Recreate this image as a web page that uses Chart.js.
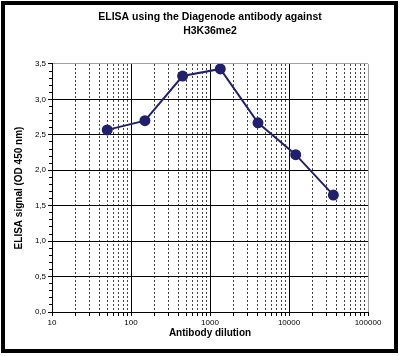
<!DOCTYPE html>
<html>
<head>
<meta charset="utf-8">
<script src="https://cdn.jsdelivr.net/npm/chart.js@4/dist/chart.umd.min.js"></script>
<style>
  html, body { margin: 0; padding: 0; background: #fff; }
  #wrap { position: relative; width: 400px; height: 356px; }
  #frame { position: absolute; left: 1px; top: 1px; width: 397px; height: 352px; box-sizing: border-box; border: 4px solid #000; pointer-events: none; }
  canvas { position: absolute; left: 0; top: 0; }
</style>
</head>
<body>
<div id="wrap">
  <canvas id="c" width="400" height="356"></canvas>
  <div id="frame"></div>
</div>
<script>
// ---- data ----
const dilutions = [50, 150, 450, 1350, 4050, 12150, 36450];
const signal = [2.57, 2.70, 3.33, 3.43, 2.67, 2.22, 1.65];
const titleLines = ['ELISA using the Diagenode antibody against', 'H3K36me2'];
const xTitle = 'Antibody dilution';
const yTitle = 'ELISA signal (OD 450 nm)';
const majorX = [10, 100, 1000, 10000, 100000];
const minorFactors = [2, 3, 4, 5, 6, 7, 8, 9];
const yMajorTicks = [0, 0.5, 1, 1.5, 2, 2.5, 3, 3.5];
const yMinorStep = 0.1;

const minorX = [];
for (let i = 0; i < majorX.length - 1; i++) minorFactors.forEach(f => minorX.push(majorX[i] * f));
const allX = majorX.concat(minorX).sort((a, b) => a - b);
const yMinorTicks = [];
for (let i = 0; i <= 35; i++) yMinorTicks.push(+(i * yMinorStep).toFixed(1));

const FONT = 'Liberation Sans, Arial, sans-serif';
const lineColor = '#20206e';

new Chart(document.getElementById('c'), {
  type: 'line',
  data: {
    datasets: [{
      data: dilutions.map((d, i) => ({ x: d, y: signal[i] })),
      borderColor: lineColor,
      backgroundColor: lineColor,
      borderWidth: 2,
      pointRadius: 4.5,
      pointBackgroundColor: lineColor,
      pointBorderColor: lineColor,
      tension: 0,
      fill: false
    }]
  },
  options: {
    responsive: false,
    animation: false,
    devicePixelRatio: 1,
    layout: { padding: { left: 8, right: 32, top: 0, bottom: 12 } },
    plugins: {
      legend: { display: false },
      tooltip: { enabled: false },
      title: {
        display: true,
        text: titleLines,
        fullSize: false,
        color: '#000',
        font: { family: FONT, size: 10.5, weight: 'bold', lineHeight: 1.333 },
        padding: { top: 10, bottom: 26 }
      }
    },
    scales: {
      x: {
        type: 'logarithmic',
        position: 'bottom',
        min: 10, max: 100000,
        weight: 1,
        afterBuildTicks: s => { s.ticks = allX.map(v => ({ value: v })); },
        afterFit: s => { s.height = 32; },
        ticks: {
          autoSkip: false, maxRotation: 0, minRotation: 0,
          padding: 2, color: '#000',
          font: { family: FONT, size: 8 },
          callback: v => majorX.includes(v) ? String(v) : ''
        },
        grid: {
          color: ctx => {
            const v = ctx.tick && ctx.tick.value;
            if (v === 100000) return '#a0a0a0';
            return majorX.includes(v) ? '#000' : 'rgba(0,0,0,0)';
          },
          tickColor: '#000',
          tickLength: 4,
          lineWidth: 1
        },
        border: { display: true, color: '#000', width: 1 },
        title: {
          display: true, text: xTitle, color: '#000',
          font: { family: FONT, size: 10, weight: 'bold' },
          padding: { top: 0, bottom: 5 }
        }
      },
      x2: {
        type: 'logarithmic',
        position: 'bottom',
        min: 10, max: 100000,
        weight: 0,
        afterBuildTicks: s => { s.ticks = minorX.map(v => ({ value: v })); },
        afterFit: s => { s.height = 0; },
        ticks: { display: false, autoSkip: false },
        grid: { color: '#444', lineWidth: 1, drawTicks: false },
        border: { display: false, dash: [2, 2] }
      },
      y: {
        type: 'linear',
        position: 'left',
        min: 0, max: 3.5,
        weight: 1,
        afterBuildTicks: s => { s.ticks = yMajorTicks.map(v => ({ value: v })); },
        afterFit: s => { s.width = 44; },
        ticks: {
          padding: 2, color: '#000',
          font: { family: FONT, size: 8 },
          callback: v => Number(v).toFixed(1).replace('.', ',')
        },
        grid: {
          color: ctx => (ctx.tick && ctx.tick.value === 3.5) ? '#a0a0a0' : '#000',
          tickColor: '#000',
          tickLength: 4,
          lineWidth: 1
        },
        border: { display: true, color: '#000', width: 1 },
        title: {
          display: true, text: yTitle, color: '#000',
          font: { family: FONT, size: 10, weight: 'bold' },
          padding: { top: 5, bottom: 0 }
        }
      },
      y2: {
        type: 'linear',
        position: 'left',
        min: 0, max: 3.5,
        weight: 0,
        afterBuildTicks: s => { s.ticks = yMinorTicks.map(v => ({ value: v })); },
        afterFit: s => { s.width = 0; },
        ticks: { display: false },
        grid: { drawOnChartArea: false, tickColor: '#000', tickLength: 3, color: '#000' },
        border: { display: false }
      }
    }
  }
});
</script>
</body>
</html>
